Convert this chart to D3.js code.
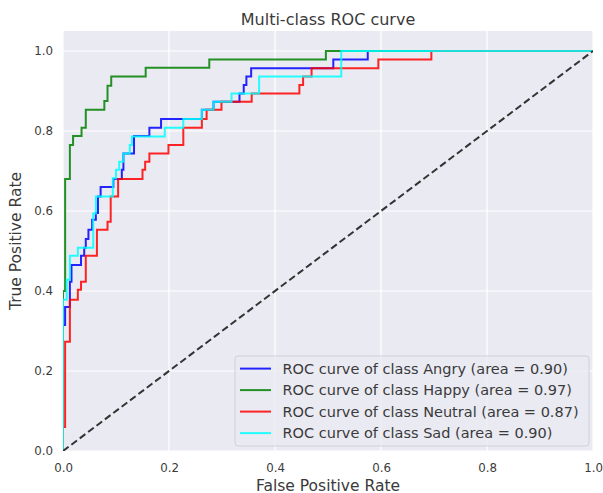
<!DOCTYPE html>
<html><head><meta charset="utf-8">
<script src="https://cdn.jsdelivr.net/npm/d3@7"></script>
<style>
html,body{margin:0;padding:0;background:#fff;}
svg{display:block;font-family:"DejaVu Sans",sans-serif;}
</style></head>
<body><svg id="c" width="603" height="493"></svg>
<script>
const classNames = ["Angry", "Happy", "Neutral", "Sad"];
const classAuc = ["0.90", "0.97", "0.87", "0.90"];
const classColors = ["#0000ff", "#008000", "#ff0000", "#00ffff"];

const angryFpr = [0,0,0.004,0.004,0.013,0.013,0.016,0.016,0.034,0.034,0.04,0.04,0.043,0.043,0.048,0.048,0.055,0.055,0.062,0.062,0.066,0.066,0.071,0.071,0.095,0.095,0.111,0.111,0.114,0.114,0.134,0.134,0.163,0.163,0.185,0.185,0.262,0.262,0.284,0.284,0.333,0.333,0.341,0.341,0.346,0.346,0.355,0.355,0.51,0.51,0.575,0.575,1];
const angryTpr = [0,0.315,0.315,0.36,0.36,0.423,0.423,0.465,0.465,0.488,0.488,0.508,0.508,0.53,0.53,0.553,0.553,0.578,0.578,0.595,0.595,0.636,0.636,0.66,0.66,0.68,0.68,0.703,0.703,0.744,0.744,0.7875,0.7875,0.808,0.808,0.83,0.83,0.853,0.853,0.873,0.873,0.894,0.894,0.915,0.915,0.936,0.936,0.957,0.957,0.979,0.979,1,1];

const happyFpr = [0,0,0.004,0.004,0.013,0.013,0.019,0.019,0.035,0.035,0.043,0.043,0.078,0.078,0.084,0.084,0.091,0.091,0.156,0.156,0.276,0.276,0.496,0.496,1];
const happyTpr = [0,0.40,0.40,0.68,0.68,0.765,0.765,0.7875,0.7875,0.808,0.808,0.853,0.853,0.875,0.875,0.913,0.913,0.936,0.936,0.958,0.958,0.979,0.979,1,1];

const neutralFpr = [0,0,0.004,0.004,0.013,0.013,0.028,0.028,0.034,0.034,0.043,0.043,0.064,0.064,0.084,0.084,0.09,0.09,0.104,0.104,0.15,0.15,0.155,0.155,0.163,0.163,0.199,0.199,0.227,0.227,0.262,0.262,0.271,0.271,0.299,0.299,0.356,0.356,0.446,0.446,0.453,0.453,0.469,0.469,0.595,0.595,0.695,0.695,1];
const neutralTpr = [0,0.06,0.06,0.273,0.273,0.378,0.378,0.403,0.403,0.423,0.423,0.488,0.488,0.553,0.553,0.573,0.573,0.636,0.636,0.68,0.68,0.703,0.703,0.723,0.723,0.744,0.744,0.765,0.765,0.808,0.808,0.83,0.83,0.853,0.853,0.873,0.873,0.894,0.894,0.915,0.915,0.936,0.936,0.957,0.957,0.979,0.979,1,1];

const sadFpr = [0,0,0.007,0.007,0.013,0.013,0.028,0.028,0.057,0.057,0.062,0.062,0.094,0.094,0.1,0.1,0.106,0.106,0.114,0.114,0.126,0.126,0.13,0.13,0.192,0.192,0.227,0.227,0.262,0.262,0.284,0.284,0.318,0.318,0.37,0.37,0.525,0.525,1];
const sadTpr = [0,0.378,0.378,0.428,0.428,0.488,0.488,0.508,0.508,0.594,0.594,0.636,0.636,0.682,0.682,0.703,0.703,0.723,0.723,0.744,0.744,0.765,0.765,0.786,0.786,0.808,0.808,0.83,0.83,0.853,0.853,0.873,0.873,0.894,0.894,0.936,0.936,1,1];

const fprSeries = [angryFpr, happyFpr, neutralFpr, sadFpr];
const tprSeries = [angryTpr, happyTpr, neutralTpr, sadTpr];
const xTicks = [0, 0.2, 0.4, 0.6, 0.8, 1.0];
const yTicks = [0, 0.2, 0.4, 0.6, 0.8, 1.0];
const chanceLine = [[0,0],[1,1]];

const svg = d3.select("#c");
const L = 63, R = 593, T = 31, B = 451;
const x = d3.scaleLinear().domain([0, 1]).range([L, R]);
const y = d3.scaleLinear().domain([0, 1.05]).range([B, T]);
const textColor = "#3a3a3a";

svg.append("rect").attr("x", L).attr("y", T).attr("width", R - L).attr("height", B - T).attr("fill", "#eaeaf2");

// grid
svg.append("g").selectAll("line").data(xTicks).join("line")
  .attr("x1", d => x(d)).attr("x2", d => x(d)).attr("y1", T).attr("y2", B)
  .attr("stroke", "#fff").attr("stroke-width", 1.2);
svg.append("g").selectAll("line").data(yTicks).join("line")
  .attr("x1", L).attr("x2", R).attr("y1", d => y(d)).attr("y2", d => y(d))
  .attr("stroke", "#fff").attr("stroke-width", 1.2);

// axes (labels only)
const xAxis = d3.axisBottom(x).tickValues(xTicks).tickFormat(d3.format(".1f")).tickSize(0).tickPadding(13);
const gx = svg.append("g").attr("transform", `translate(0,${B})`).call(xAxis);
gx.select(".domain").remove();
gx.selectAll("text").attr("fill", textColor).style("font-size", "11.8px").style("font-family", "DejaVu Sans");

const yAxis = d3.axisLeft(y).tickValues(yTicks).tickFormat(d3.format(".1f")).tickSize(0).tickPadding(10);
const gy = svg.append("g").attr("transform", `translate(${L},0)`).call(yAxis);
gy.select(".domain").remove();
gy.selectAll("text").attr("fill", textColor).style("font-size", "11.8px").style("font-family", "DejaVu Sans");

svg.append("clipPath").attr("id", "pc").append("rect")
  .attr("x", L).attr("y", T).attr("width", R - L).attr("height", B - T);

const plot = svg.append("g").attr("clip-path", "url(#pc)");
const line = d3.line().x(d => x(d[0])).y(d => y(d[1]));

fprSeries.forEach((f, i) => {
  const pts = f.map((v, j) => [v, tprSeries[i][j]]);
  plot.append("path").attr("d", line(pts)).attr("fill", "none")
    .attr("stroke", classColors[i]).attr("stroke-width", 2).attr("stroke-opacity", 0.85)
    .attr("stroke-linejoin", "miter");
});

plot.append("path").attr("d", line(chanceLine)).attr("fill", "none")
  .attr("stroke", "#333").attr("stroke-width", 2).attr("stroke-dasharray", "7,3.5");

// title & labels
svg.append("text").attr("x", (L + R) / 2).attr("y", 25).attr("text-anchor", "middle")
  .attr("fill", textColor).style("font-size", "16px").text("Multi-class ROC curve");
svg.append("text").attr("x", (L + R) / 2).attr("y", 490.5).attr("text-anchor", "middle")
  .attr("fill", textColor).style("font-size", "15.5px").text("False Positive Rate");
svg.append("text").attr("transform", `translate(21,${(T + B) / 2}) rotate(-90)`).attr("text-anchor", "middle")
  .attr("fill", textColor).style("font-size", "15.5px").text("True Positive Rate");

// legend
const lg = svg.append("g");
const lx = 235, ly = 356, lw = 354, lh = 90;
lg.append("rect").attr("x", lx).attr("y", ly).attr("width", lw).attr("height", lh)
  .attr("rx", 3).attr("fill", "#eaeaf2").attr("fill-opacity", 0.8).attr("stroke", "#d0d0d8");
classNames.forEach((n, i) => {
  const yy = ly + 12.6 + i * 21.5;
  lg.append("line").attr("x1", lx + 5).attr("x2", lx + 36).attr("y1", yy).attr("y2", yy)
    .attr("stroke", classColors[i]).attr("stroke-width", 2).attr("stroke-opacity", 0.85);
  lg.append("text").attr("x", lx + 47.5).attr("y", yy + 5.3).attr("fill", textColor)
    .style("font-size", "14.5px").text(`ROC curve of class ${n} (area = ${classAuc[i]})`);
});
</script></body></html>
